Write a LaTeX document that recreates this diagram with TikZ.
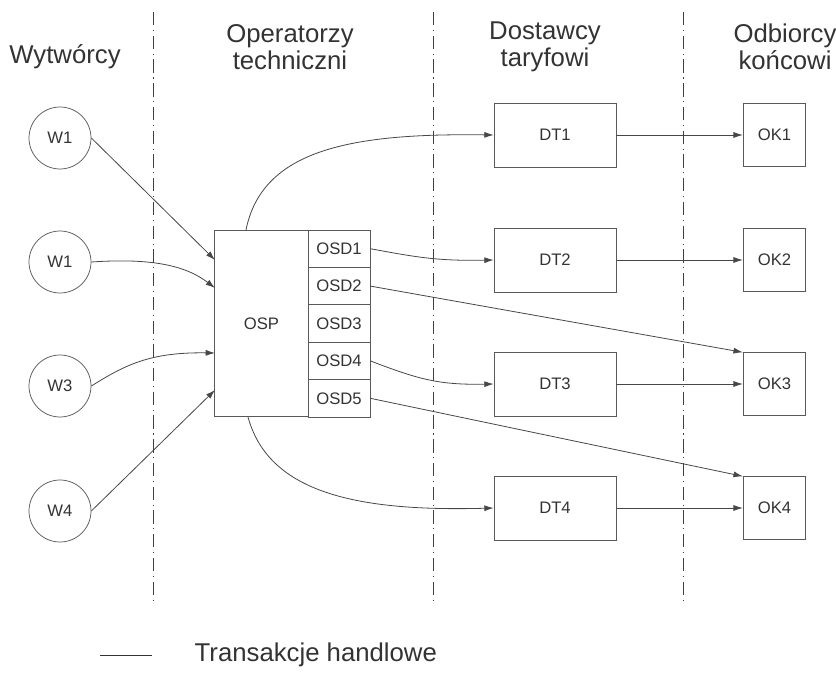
\documentclass[tikz,border=0pt]{standalone}
\usepackage{fontspec}
\setmainfont{Liberation Sans}
\usetikzlibrary{arrows.meta}

\begin{document}
\begin{tikzpicture}[x=0.75pt, y=-0.75pt, >={Latex[length=7pt,width=4.5pt]},
    every node/.style={font=\fontsize{12.5}{15}\selectfont, text=black!80},
    head/.style={font=\fontsize{19.3}{20.5}\selectfont, align=center},
    link/.style={draw=black!72, line width=0.6pt},
    divider/.style={draw=black!75, line width=0.6pt, dash pattern=on 10pt off 3.5pt on 0.8pt off 3.5pt},
    gen/.style={circle, draw=black!65, line width=0.55pt, minimum size=46.5pt, inner sep=0pt},
    box/.style={draw=black!65, line width=0.55pt, inner sep=0pt}]
    \useasboundingbox (0,0) rectangle (836,677);

    % podzial na grupy
    \foreach \xd in {153, 433, 683} {
        \draw[divider] (\xd,12) -- (\xd,605);
    }
    \node[head] (hW)  at (65,57)  {Wytwórcy};
    \node[head] (hOT) at (290,47) {Operatorzy\\techniczni};
    \node[head] (hDT) at (545,47) {Dostawcy\\taryfowi};
    \node[head] (hOK) at (785,47) {Odbiorcy\\końcowi};

    % wytworcy
    \node[gen] (w1) at (60,138) {W1};
    \node[gen] (w2) at (60,262) {W1};
    \node[gen] (w3) at (60,386) {W3};
    \node[gen] (w4) at (60,511) {W4};

    % operatorzy
    \node[box, minimum width=70pt, minimum height=140pt] (osp) at (261.5,323.5) {OSP};
    \foreach \i in {1,...,5} {
        \node[box, minimum width=46.5pt, minimum height=28pt] (osd\i) at (339,211.3+37.4*\i) {OSD\i};
    }

    % dostawcy i odbiorcy
    \foreach \i/\yy in {1/135, 2/260, 3/384, 4/508} {
        \node[box, minimum width=91.5pt, minimum height=48pt] (dt\i) at (555,\yy) {DT\i};
        \node[box, minimum width=47pt, minimum height=47pt] (ok\i) at (774.5,\yy) {OK\i};
        \draw[link, ->] (dt\i.east) -- (ok\i.west);
    }

    \coordinate (in1) at (215,260);
    \coordinate (in2) at (215,288);
    \coordinate (in3) at (215,353);
    \coordinate (in4) at (215,390);
    \coordinate (top) at (246,230);
    \coordinate (bot) at (248,417);

    \draw[link, ->] (w1.east) -- (in1);
    \draw[link, ->] (w2.east) .. controls (150,258) and (185,265) .. (in2);
    \draw[link, ->] (w3.east) .. controls (125,365) and (150,352) .. (in3);
    \draw[link, ->] (w4.east) -- (in4);

    \draw[link, ->] (top) .. controls (262,150) and (350,133) .. (dt1.west);
    \draw[link, ->] (bot) .. controls (268,490) and (350,512) .. (dt4.west);
    \draw[link, ->] (osd1.east) .. controls (420,258) and (440,261) .. (dt2.west);
    \draw[link, ->] (osd4.east) .. controls (420,380) and (440,385) .. (dt3.west);
    \draw[link, ->] (osd2.east) -- (ok3.north west);
    \draw[link, ->] (osd5.east) -- (ok4.north west);

    % legenda
    \coordinate (lg1) at (100,655);
    \coordinate (lg2) at (152,655);
    \draw[black!80, line width=0.7pt] (lg1) -- (lg2);
    \node[head, anchor=west] (lgt) at (190,655) {Transakcje handlowe};
\end{tikzpicture}
\end{document}
